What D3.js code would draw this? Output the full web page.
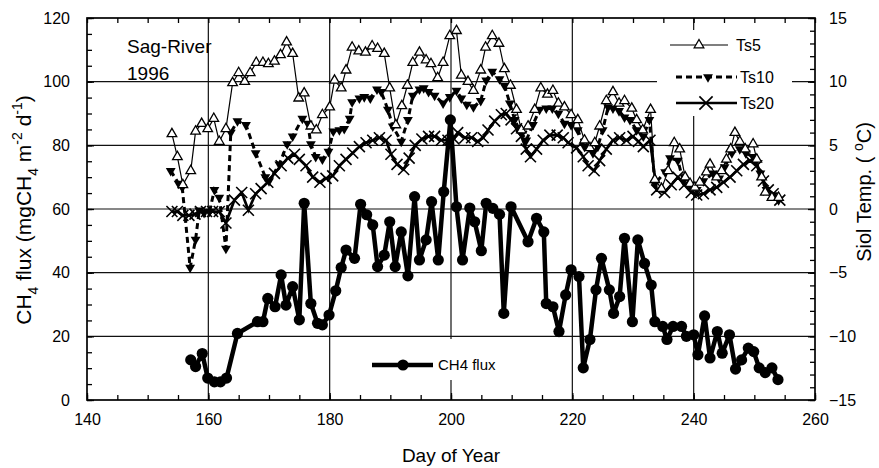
<!DOCTYPE html>
<html><head><meta charset="utf-8">
<script src="https://cdn.jsdelivr.net/npm/d3@7"></script>
<style>
body{margin:0;background:#fff}
svg{display:block}
text{font-family:"Liberation Sans",Arial,Helvetica,sans-serif;fill:#000}
</style>
</head><body>
<svg id="c" width="879" height="468"></svg>
<script>
// ---------- data ----------
const xTicks=[140,160,180,200,220,240,260];
const yLeftTicks=[0,20,40,60,80,100,120];
const yRightTicks=[-15,-10,-5,0,5,10,15];

const ch4Day=[157.1,157.9,159.0,159.9,161,162,163,164.8,168.1,169,169.8,171,172,172.8,173.9,175,175.8,176.9,178,178.8,179.9,181,181.9,182.7,184.1,185.1,186.1,187.1,187.9,189,189.9,190.8,191.8,192.9,194,194.8,195.9,196.8,197.9,198.8,199.9,200.9,201.9,203.1,203.9,205,205.8,206.9,208,208.7,209.9,212.7,214.1,215.3,215.7,216.8,217.8,218.9,219.8,221.1,221.8,222.9,223.9,224.8,226.1,226.8,227.8,228.6,229.9,230.8,231.9,233,233.6,234.9,235.6,236.6,238,238.8,240,240.7,241.8,242.7,243.9,244.7,245.9,246.9,247.9,249,249.9,250.8,251.8,252.9,253.9];
const ch4Val=[12.6,10.5,14.6,6.9,5.7,5.7,6.9,20.9,24.6,24.6,31.9,29.3,39.3,29.8,35.6,25.2,61.8,30.3,24.1,23.6,26.7,34.3,41.6,47.1,44.5,61.5,58.2,55,41.9,45.5,56,41.9,52.8,39,63.9,44,50.3,62.3,44,65.4,88,60.7,44,60.3,56,46.9,61.8,60.2,58.3,27.2,60.7,49.7,57.1,52.8,30.3,29.3,21.5,33,40.9,38.8,10.1,19,34.6,44.5,34.6,27.2,32.5,50.8,24.6,50.3,42.9,36.1,24.6,23.1,19,23.1,23.1,20,20.5,14.2,26.4,13.2,21.5,14.7,20.5,9.7,12.6,16.3,15.2,10.1,8.6,10.1,6.4];

const ts5Day=[154,154.9,155.8,157.1,157.9,158.9,159.9,160.9,161.8,162.9,164,165,166,166.9,167.9,169,169.9,170.9,171.9,172.9,173.9,174.9,175.8,176.9,177.8,178.8,180,180.8,181.9,182.7,183.7,184.8,185.9,187,187.9,189,189.9,190.9,191.9,192.8,193.7,194.8,195.9,196.7,197.8,198.7,199.8,200.9,201.7,202.8,203.7,204.9,205.7,206.8,207.9,208.8,209.8,210.8,211.6,212.7,213.8,214.8,215.9,216.8,217.7,218.7,219.8,220.9,222,222.9,223.7,224.5,225.6,226.7,227.7,228.6,229.8,230.6,231.6,232.9,233.6,234.7,235.8,236.8,237.7,238.6,239.4,240.2,241,242.1,242.7,243.8,244.6,245.4,246.1,246.8,247.6,248.5,249.8,250.4,251.2,251.8,252.9,254];
const ts5Val=[5.9,4.1,1.9,3.0,6.1,6.7,6.3,7.1,5.3,6.3,9.9,10.7,10.0,10.7,11.5,11.5,11.4,11.6,12.1,13.1,12.2,8.7,9.1,6.5,6.2,7.4,8.0,10.1,9.5,10.9,12.7,12.4,12.3,12.8,12.6,12.2,9.5,6.6,8.1,9.7,11.5,12.3,11.7,11.4,10.3,11.5,13.6,14.0,10.5,10.0,9.3,10.9,12.7,13.6,13.0,11.0,9.7,7.8,6.2,6.5,7.8,9.5,9.0,9.3,8.3,8.0,7.4,7.0,5.4,4.8,5.2,6.5,8.5,9.2,8.3,8.5,7.9,7.0,6.2,7.8,2.3,1.6,3.0,5.2,4.7,2.5,2.0,1.7,2.1,2.9,3.5,2.5,3.0,3.9,4.7,6.0,5.3,4.7,5.1,3.9,2.5,1.3,0.9,0.9];

const ts10Day=[153.8,155.1,155.7,157,157.9,158.5,159.3,160.2,161,161.8,162.9,163.7,164.8,166.2,167.8,169.4,170,171.7,173,173.9,175.5,176.4,176.9,177.7,178.8,179.8,180.6,181.6,182.4,183.3,183.7,184.9,185.7,186.7,187.8,188.5,189.6,190.4,191.8,192.9,193.7,194.8,195.5,196.3,197.3,198.7,199.8,200.9,201.7,202.6,203.7,204.9,205.8,206.8,208,208.8,209.7,210.5,211.3,212.4,213.5,214.6,215.7,216.7,217.7,218.7,219.8,220.9,222,223.4,224.2,225,225.9,226.7,227.7,228.6,229.5,230.6,231.7,232.7,233.6,235.3,236.1,237.4,238.3,239.4,240.5,241.6,243.2,244.2,245.1,246.3,247.6,248.6,249.8,251,252,253.1,254];
const ts10Val=[3.0,2.0,1.7,-4.6,-2.4,-0.1,-0.3,-0.2,1.5,0.9,-3.1,6.0,6.9,6.6,4.4,2.5,2.2,3.5,5.1,5.7,7.1,6.7,5.1,4.1,3.9,4.5,6.1,6.2,6.3,7.1,8.4,8.7,8.8,8.7,9.4,9.2,7.8,6.5,5.3,7.0,8.9,9.4,9.5,9.2,8.9,8.3,8.8,9.3,8.7,8.2,8.0,8.5,10.1,10.8,10.2,9.7,8.3,7.0,6.2,5.4,6.6,7.8,7.9,7.9,7.5,6.7,6.6,6.2,4.9,4.4,4.9,6.2,8.0,7.9,7.7,7.2,7.0,6.2,5.7,7.0,2.0,2.9,4.0,3.8,2.2,1.9,1.5,2.2,2.8,2.4,3.3,4.4,4.7,4.4,4.1,2.8,1.5,1.1,0.7];

const ts20Day=[154,154.9,155.8,156.8,157.8,158.7,159.7,160.7,161.8,162.9,164.3,165.5,166.6,167.8,168.7,169.8,170.9,172,173.1,174.2,175,176.1,177.2,178.4,179.4,180.5,181.6,182.7,183.8,184.9,186,187.1,188.2,189.3,190.1,191.1,192.2,193.1,194.1,195.2,196.3,197.3,198.4,199.5,200.5,201.1,202.3,203.4,204.4,205.3,206.1,207.2,208.3,209.1,209.9,210.8,211.6,212.4,213.1,214.1,215.2,216.3,217.5,218.5,219.3,220.7,221.8,222.6,223.6,224.5,225.6,226.7,227.8,228.9,230,230.9,231.7,232.8,233.9,235.2,236.3,237.4,238.5,239.6,240.5,241.6,242.7,243.8,244.9,246,247.1,248.2,249.3,250.4,251.5,252.3,253.1,254.2];
const ts20Val=[-0.2,-0.2,-0.5,-0.5,-0.4,-0.2,-0.2,-0.2,-0.2,-1.1,0.7,1.3,-0.1,1.2,1.6,2.1,2.8,3.4,4.0,4.3,3.9,3.4,2.5,2.1,2.4,2.6,3.4,3.9,4.4,4.9,5.2,5.4,5.6,5.4,4.3,3.5,3.1,4.0,5.0,5.5,5.7,5.7,5.4,5.4,5.5,6.0,5.6,5.6,5.3,5.6,6.2,6.9,7.4,7.5,7.0,6.3,5.7,4.7,4.1,4.7,5.4,5.8,5.8,5.6,5.2,4.8,4.1,3.4,3.0,3.8,4.7,5.4,5.6,5.4,5.7,5.3,4.9,5.4,1.5,1.3,1.9,2.5,1.9,1.3,1.1,1.2,1.5,1.7,2.1,2.5,3.0,3.5,3.8,3.4,2.2,1.5,1.2,0.7];

// ---------- layout ----------
const L=87,R=815,T=18,B=400;
const svg=d3.select("#c");
svg.append("rect").attr("width",879).attr("height",468).attr("fill","#fff");
const x=d3.scaleLinear().domain([140,260]).range([L,R]);
const yL=d3.scaleLinear().domain([0,120]).range([B,T]);
const yR=d3.scaleLinear().domain([-15,15]).range([B,T]);

// grid
const grid=svg.append("g").attr("stroke","#111").attr("stroke-width",1.2);
grid.selectAll(".v").data(xTicks.slice(1,-1)).join("line")
  .attr("x1",d=>x(d)).attr("x2",d=>x(d)).attr("y1",T).attr("y2",B);
grid.selectAll(".h").data(yLeftTicks.slice(1,-1)).join("line")
  .attr("x1",L).attr("x2",R).attr("y1",d=>yL(d)).attr("y2",d=>yL(d));

// axes
const fs="16px";
function style(g){g.selectAll("text").style("font-size",fs).attr("font-family",null);g.selectAll("line").attr("stroke","#000").attr("stroke-width",1.3);g.select(".domain").remove();}
const range=(a,b,s)=>d3.range(a,b+1e-9,s);
svg.append("g").attr("transform",`translate(0,${B})`).call(d3.axisBottom(x).tickValues(xTicks).tickSize(-7).tickPadding(14)).call(style);
svg.append("g").attr("transform",`translate(0,${B})`).call(d3.axisBottom(x).tickValues(range(140,260,5)).tickSize(-5).tickFormat("")).call(style);
svg.append("g").attr("transform",`translate(0,${T})`).call(d3.axisTop(x).tickValues(range(140,260,5)).tickSize(-5).tickFormat("")).call(style);
svg.append("g").attr("transform",`translate(${L},0)`).call(d3.axisLeft(yL).tickValues(yLeftTicks).tickSize(-7).tickPadding(17)).call(style);
svg.append("g").attr("transform",`translate(${L},0)`).call(d3.axisLeft(yL).tickValues(range(0,120,5)).tickSize(-5).tickFormat("")).call(style);
svg.append("g").attr("transform",`translate(${R},0)`).call(d3.axisRight(yR).tickValues(yRightTicks).tickSize(-7).tickPadding(14)).call(style);
svg.append("g").attr("transform",`translate(${R},0)`).call(d3.axisRight(yR).tickValues(range(-15,15,1)).tickSize(-5).tickFormat("")).call(style);
svg.append("rect").attr("x",L).attr("y",T).attr("width",R-L).attr("height",B-T).attr("fill","none").attr("stroke","#000").attr("stroke-width",1.7);

// ---------- series ----------
const zip=(a,b)=>a.map((d,i)=>[d,b[i]]);
const ts5=zip(ts5Day,ts5Val), ts10=zip(ts10Day,ts10Val), ts20=zip(ts20Day,ts20Val), ch4=zip(ch4Day,ch4Val);
const lineR=d3.line().x(d=>x(d[0])).y(d=>yR(d[1]));
const lineL=d3.line().x(d=>x(d[0])).y(d=>yL(d[1]));
const triUp=d3.symbol().type(d3.symbolTriangle).size(40);
const triDn=d3.symbol().type(d3.symbolTriangle).size(42);
const cross="M-5.5,-5.5L5.5,5.5M-5.5,5.5L5.5,-5.5";

// Ts20
svg.append("path").datum(ts20).attr("d",lineR).attr("fill","none").attr("stroke","#000").attr("stroke-width",2.7);
svg.append("g").selectAll("path").data(ts20).join("path").attr("d",cross)
  .attr("transform",d=>`translate(${x(d[0])},${yR(d[1])})`).attr("stroke","#000").attr("stroke-width",1.6).attr("fill","none");
// Ts10
svg.append("path").datum(ts10).attr("d",lineR).attr("fill","none").attr("stroke","#000").attr("stroke-width",3).attr("stroke-dasharray","6,4");
svg.append("g").selectAll("path").data(ts10).join("path").attr("d",triDn())
  .attr("transform",d=>`translate(${x(d[0])},${yR(d[1])}) rotate(180)`).attr("fill","#000");
// Ts5
svg.append("path").datum(ts5).attr("d",lineR).attr("fill","none").attr("stroke","#000").attr("stroke-width",1.2);
svg.append("g").selectAll("path").data(ts5).join("path").attr("d",triUp())
  .attr("transform",d=>`translate(${x(d[0])},${yR(d[1])})`).attr("fill","#fff").attr("stroke","#000").attr("stroke-width",1.3);
// CH4
svg.append("path").datum(ch4).attr("d",lineL).attr("fill","none").attr("stroke","#000").attr("stroke-width",4.5).attr("stroke-linejoin","round");
svg.append("g").selectAll("circle").data(ch4).join("circle")
  .attr("cx",d=>x(d[0])).attr("cy",d=>yL(d[1])).attr("r",5.6).attr("fill","#000");

// ---------- legends ----------
svg.append("rect").attr("x",657).attr("y",30).attr("width",135).attr("height",86).attr("fill","#fff");
const lg=svg.append("g");
lg.append("line").attr("x1",670).attr("x2",728).attr("y1",45).attr("y2",45).attr("stroke","#000").attr("stroke-width",1.2);
lg.append("path").attr("d",triUp()).attr("transform","translate(699,45)").attr("fill","#fff").attr("stroke","#000").attr("stroke-width",1.3);
lg.append("text").attr("x",736).attr("y",51).style("font-size","16px").text("Ts5");
lg.append("line").attr("x1",676).attr("x2",737).attr("y1",77).attr("y2",77).attr("stroke","#000").attr("stroke-width",3).attr("stroke-dasharray","6,4");
lg.append("path").attr("d",triDn()).attr("transform","translate(708,77) rotate(180)").attr("fill","#000");
lg.append("text").attr("x",740).attr("y",83).style("font-size","16px").text("Ts10");
lg.append("line").attr("x1",676).attr("x2",737).attr("y1",103).attr("y2",103).attr("stroke","#000").attr("stroke-width",2.7);
lg.append("path").attr("d",cross).attr("transform","translate(706,103) scale(1.2)").attr("stroke","#000").attr("stroke-width",1.4).attr("fill","none");
lg.append("text").attr("x",740).attr("y",109).style("font-size","16px").text("Ts20");

svg.append("rect").attr("x",365).attr("y",339).attr("width",140).attr("height",41).attr("fill","#fff");
svg.append("line").attr("x1",372).attr("x2",433).attr("y1",365).attr("y2",365).attr("stroke","#000").attr("stroke-width",4.5);
svg.append("circle").attr("cx",403).attr("cy",365).attr("r",5.6).attr("fill","#000");
svg.append("text").attr("x",438).attr("y",370).style("font-size","15px").text("CH4 flux");

// ---------- annotations & titles ----------
svg.append("text").attr("x",127).attr("y",53).style("font-size","19px").text("Sag-River");
svg.append("text").attr("x",127).attr("y",80).style("font-size","19px").text("1996");
svg.append("text").attr("x",451).attr("y",462).attr("text-anchor","middle").style("font-size","19px").text("Day of Year");

const lt=svg.append("text").attr("transform","translate(31,210) rotate(-90)").attr("text-anchor","middle").style("font-size","21px");
lt.append("tspan").text("CH");
lt.append("tspan").attr("dy",7).style("font-size","14px").text("4");
lt.append("tspan").attr("dy",-7).text("  flux (mgCH");
lt.append("tspan").attr("dy",7).style("font-size","14px").text("4");
lt.append("tspan").attr("dy",-7).text("  m");
lt.append("tspan").attr("dy",-9).style("font-size","14px").text("-2");
lt.append("tspan").attr("dy",9).text(" d");
lt.append("tspan").attr("dy",-9).style("font-size","14px").text("-1");
lt.append("tspan").attr("dy",9).text(")");

const rt=svg.append("text").attr("transform","translate(871,192) rotate(-90)").attr("text-anchor","middle").style("font-size","20px");
rt.append("tspan").text("Siol Temp. (  ");
rt.append("tspan").attr("dy",-8).style("font-size","14px").text("o");
rt.append("tspan").attr("dy",8).text("C)");
</script>
</body></html>
